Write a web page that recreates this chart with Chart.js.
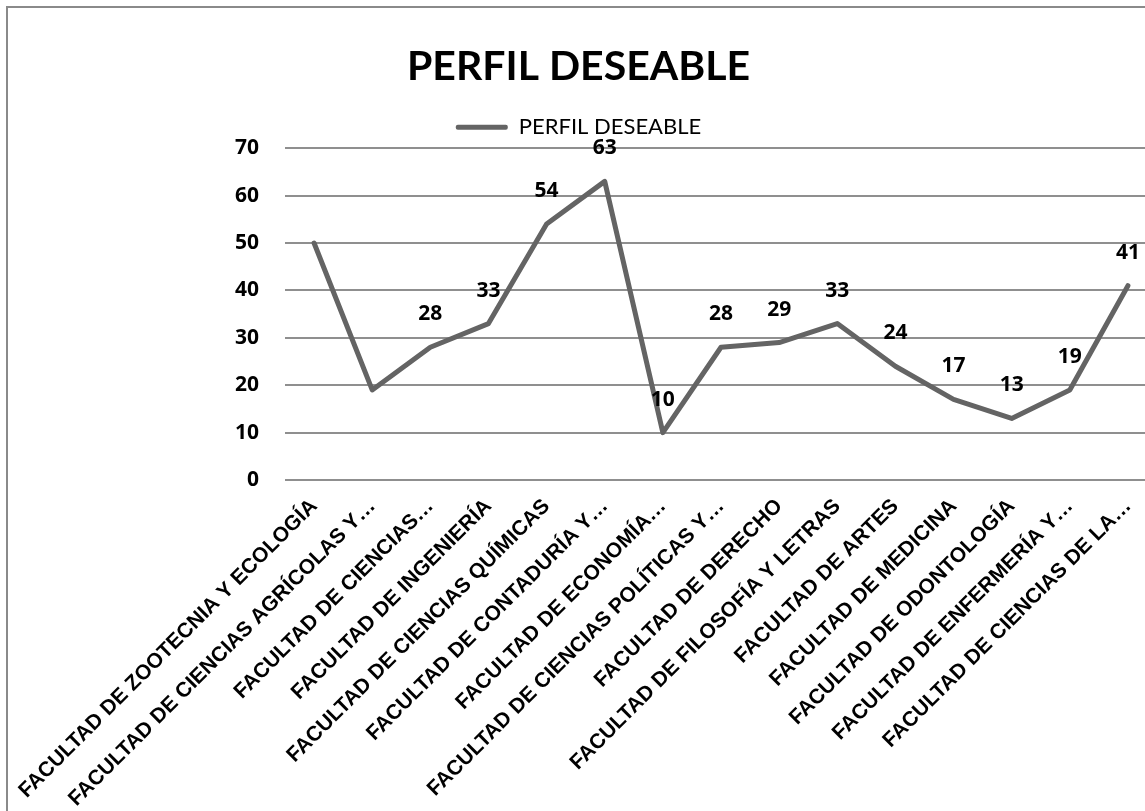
<!DOCTYPE html>
<html lang="es">
<head>
    <meta charset="UTF-8">
    <title>Perfil deseable</title>
    <script src="https://cdn.jsdelivr.net/npm/chart.js"></script>
    <style>
        body {
            margin: 0;
            background-color: #ffffff;
            overflow: hidden;
        }

        .frame {
            position: absolute;
            left: 6px;
            top: 6px;
            width: 1300px;
            height: 1000px;
            border-left: 2px solid #8a8a8a;
            border-top: 2px solid #8a8a8a;
        }

        #chart {
            position: absolute;
            left: 0;
            top: 0;
        }
    </style>
</head>
<body>
    <div class="frame"></div>
    <canvas id="chart" width="1166" height="811"></canvas>

    <script>
        const chartTitle = 'PERFIL DESEABLE';
        const seriesName = 'PERFIL DESEABLE';

        const facultades = [
            'FACULTAD DE ZOOTECNIA Y ECOLOGÍA',
            'FACULTAD DE CIENCIAS AGRÍCOLAS Y…',
            'FACULTAD DE CIENCIAS…',
            'FACULTAD DE INGENIERÍA',
            'FACULTAD DE CIENCIAS QUÍMICAS',
            'FACULTAD DE CONTADURÍA Y…',
            'FACULTAD DE ECONOMÍA…',
            'FACULTAD DE CIENCIAS POLÍTICAS Y…',
            'FACULTAD DE DERECHO',
            'FACULTAD DE FILOSOFÍA Y LETRAS',
            'FACULTAD DE ARTES',
            'FACULTAD DE MEDICINA',
            'FACULTAD DE ODONTOLOGÍA',
            'FACULTAD DE ENFERMERÍA Y…',
            'FACULTAD DE CIENCIAS DE LA…'
        ];

        const valores = [50, 19, 28, 33, 54, 63, 10, 28, 29, 33, 24, 17, 13, 19, 41];

        // puntos sin etiqueta de datos en el original
        const sinEtiqueta = [0, 1];

        const yMin = 0;
        const yMax = 70;
        const yPaso = 10;

        const fuenteNumeros = '"Open Sans"';

        const etiquetasDatos = {
            id: 'etiquetasDatos',
            afterDatasetsDraw(chart) {
                const ctx = chart.ctx;
                const meta = chart.getDatasetMeta(0);
                ctx.save();
                ctx.font = 'bold 21px ' + fuenteNumeros;
                ctx.fillStyle = '#000000';
                ctx.textAlign = 'center';
                ctx.textBaseline = 'middle';
                meta.data.forEach((pt, i) => {
                    if (sinEtiqueta.includes(i)) return;
                    ctx.fillText(String(valores[i]), pt.x, pt.y - 33);
                });
                ctx.restore();
            }
        };

        const ctx = document.getElementById('chart').getContext('2d');
        new Chart(ctx, {
            type: 'line',
            data: {
                labels: facultades,
                datasets: [{
                    label: seriesName,
                    data: valores,
                    borderColor: '#646464',
                    backgroundColor: '#646464',
                    borderWidth: 5,
                    pointRadius: 0,
                    tension: 0,
                    borderCapStyle: 'round',
                    borderJoinStyle: 'round'
                }]
            },
            options: {
                responsive: false,
                animation: false,
                devicePixelRatio: 1,
                layout: {
                    padding: { left: 0, right: 9, top: 0, bottom: 0 }
                },
                plugins: {
                    tooltip: { enabled: false },
                    title: {
                        display: true,
                        text: chartTitle,
                        color: '#000000',
                        font: { family: 'Lato', size: 41, weight: 'bold' },
                        padding: { top: 42, bottom: 22 }
                    },
                    legend: {
                        display: true,
                        position: 'top',
                        labels: {
                            color: '#000000',
                            font: { family: 'Lato', size: 22 },
                            boxWidth: 52,
                            boxHeight: 5,
                            padding: 3,
                            generateLabels(chart) {
                                return Chart.defaults.plugins.legend.labels.generateLabels(chart)
                                    .map(l => ({ ...l, lineWidth: 0, borderRadius: 2 }));
                            }
                        }
                    }
                },
                scales: {
                    x: {
                        offset: true,
                        grid: { display: false },
                        border: { display: false },
                        ticks: {
                            color: '#000000',
                            font: { family: 'Liberation Sans', size: 21, weight: 'bold' },
                            minRotation: 45,
                            maxRotation: 45,
                            autoSkip: false,
                            padding: 6
                        },
                        afterFit(scale) {
                            scale.height = 331;
                        }
                    },
                    y: {
                        min: yMin,
                        max: yMax,
                        border: { display: false },
                        grid: {
                            color: '#8f8f8f',
                            lineWidth: 2,
                            drawTicks: false
                        },
                        ticks: {
                            stepSize: yPaso,
                            color: '#000000',
                            font: { family: 'Open Sans', size: 21, weight: 'bold' },
                            padding: 26
                        },
                        afterFit(scale) {
                            scale.width = 285;
                        }
                    }
                }
            },
            plugins: [etiquetasDatos]
        });
    </script>
</body>
</html>
